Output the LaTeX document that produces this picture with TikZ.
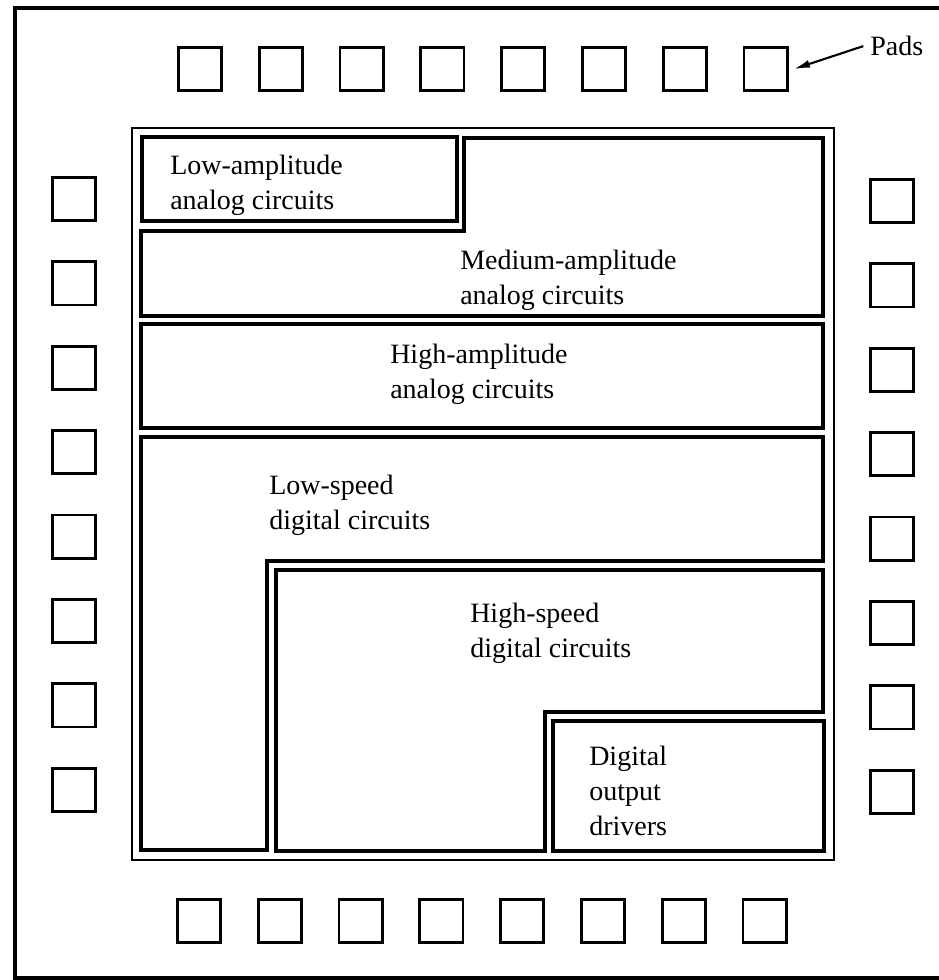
\documentclass[tikz,border=0pt]{standalone}
\usepackage{fontspec}
\setmainfont{Liberation Serif}
\usetikzlibrary{arrows.meta,positioning}
\begin{document}
\begin{tikzpicture}[x=0.75pt,y=-0.75pt,>=Latex, every node/.style={font=\fontsize{21}{26}\selectfont}]
\tikzstyle{pad}=[draw,line width=2.1pt,minimum size=32.4pt,inner sep=0pt]
\tikzstyle{block}=[draw,line width=2.7pt,line join=miter]
\tikzstyle{label}=[anchor=north west,align=left,inner sep=0pt]
\useasboundingbox (0,0) rectangle (938,980);
\draw[line width=2.6pt] (945,8) -- (15,8) -- (15,978) -- (945,978);
\draw[line width=1.7pt] (132,128) rectangle (834,860);
\draw[block] (142,137) rectangle (457,221);
\draw[block] (141,231) -- (464,231) -- (464,138) -- (823,138) -- (823,316) -- (141,316) -- cycle;
\draw[block] (141,324) rectangle (823,428);
\draw[block] (141,437) -- (823,437) -- (823,561) -- (267,561) -- (267,850) -- (141,850) -- cycle;
\draw[block] (276,570) -- (823,570) -- (823,712) -- (545,712) -- (545,851) -- (276,851) -- cycle;
\draw[block] (553,721) rectangle (824,851);
\foreach \i in {1,...,8} {
  \node[pad] (t\i) at ({200+80.8*(\i-1)},69) {};
  \node[pad] (b\i) at ({199+80.8*(\i-1)},921) {};
  \node[pad] (l\i) at (74,{199+84.4*(\i-1)}) {};
  \node[pad] (r\i) at (892,{201+84.4*(\i-1)}) {};
}
\node[label] (lowamp) at (170,155) {Low-amplitude\\analog circuits};
\node[label] (medamp) at (460,250) {Medium-amplitude\\analog circuits};
\node[label] (highamp) at (390,344) {High-amplitude\\analog circuits};
\node[label] (lowspeed) at (269,475) {Low-speed\\digital circuits};
\node[label] (highspeed) at (470,603) {High-speed\\digital circuits};
\node[label] (drivers) at (589,746) {Digital\\output\\drivers};
\node[label] (pads) at (870,36) {Pads};
\draw[-{Latex[length=12pt,width=6pt]},line width=1.6pt] ([xshift=-5pt]pads.west) -- ([xshift=4pt]t8.east);
\end{tikzpicture}
\end{document}
